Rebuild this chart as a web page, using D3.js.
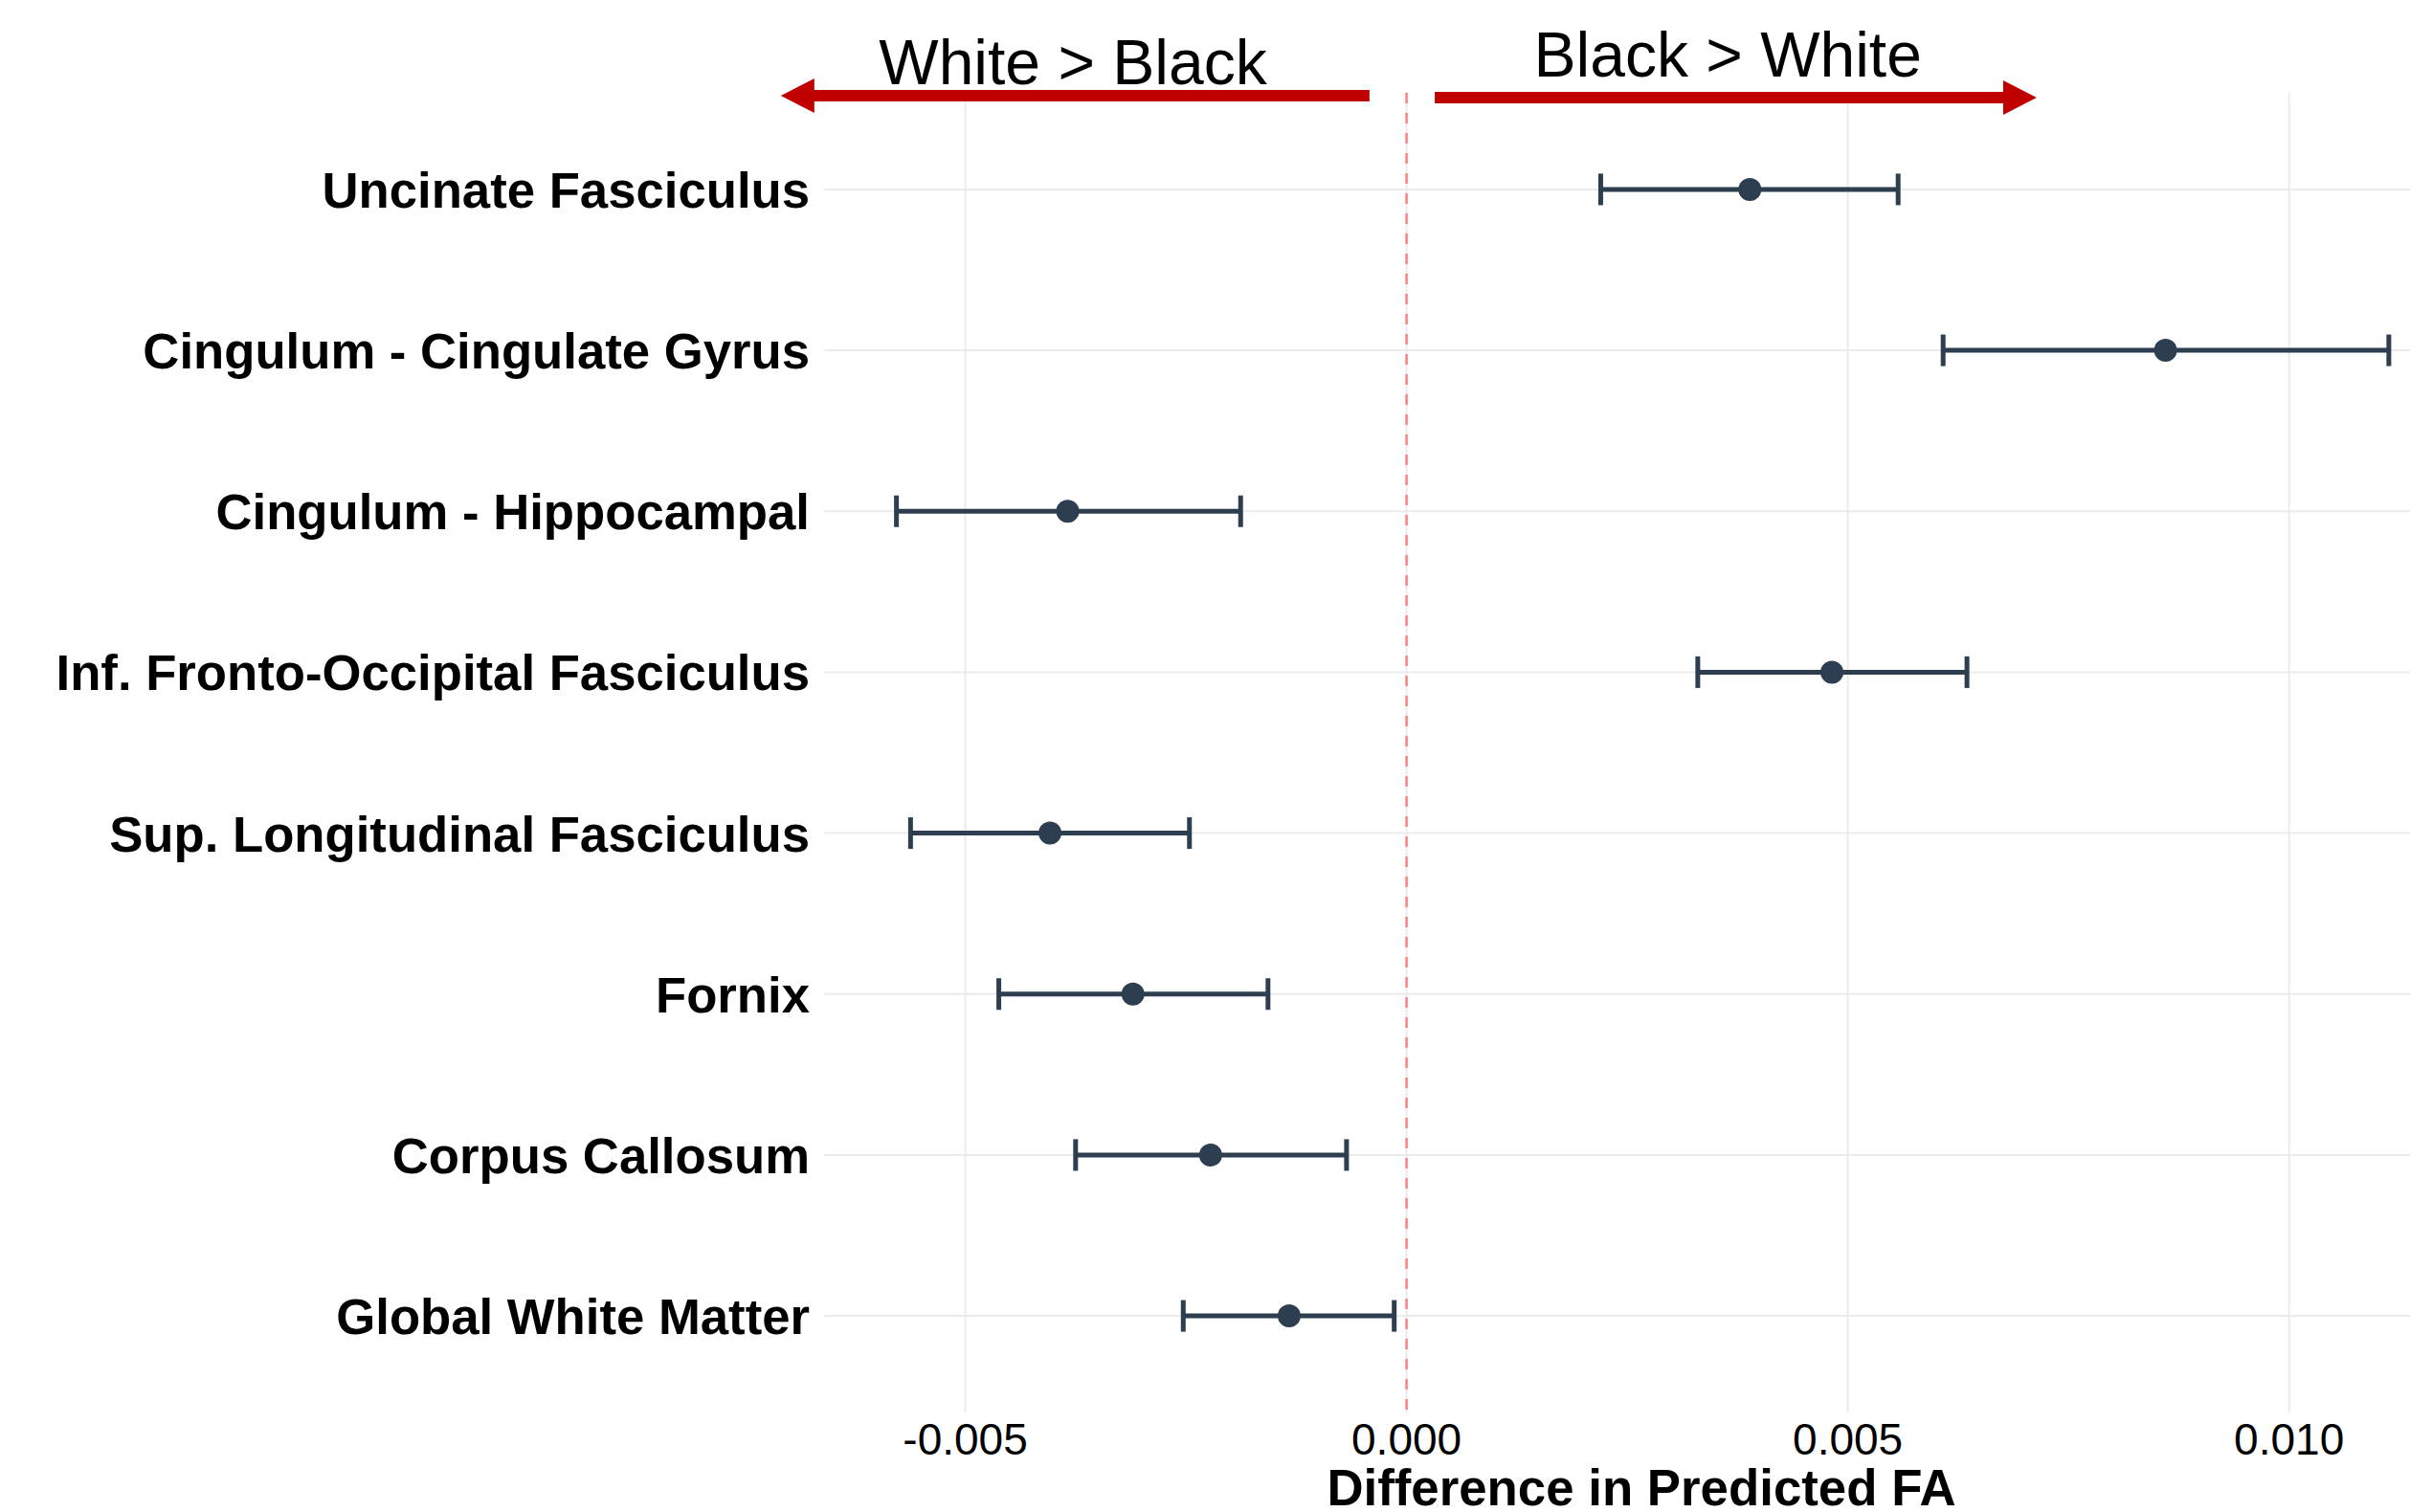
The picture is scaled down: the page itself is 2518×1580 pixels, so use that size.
<!DOCTYPE html>
<html>
<head>
<meta charset="utf-8">
<script src="https://cdn.jsdelivr.net/npm/d3@7"></script>
<style>
  body { margin: 0; background: #fff; }
  svg { display: block; font-family: "Liberation Sans", Arial, sans-serif; }
</style>
</head>
<body>
<script>
// Tracts, top to bottom
const tracts = [
  "Uncinate Fasciculus",
  "Cingulum - Cingulate Gyrus",
  "Cingulum - Hippocampal",
  "Inf. Fronto-Occipital Fasciculus",
  "Sup. Longitudinal Fasciculus",
  "Fornix",
  "Corpus Callosum",
  "Global White Matter"
];
const estimate = [0.00389, 0.00860, -0.00384, 0.00482, -0.00404, -0.00310, -0.00222, -0.00133];
const lower    = [0.00220, 0.00608, -0.00578, 0.00330, -0.00562, -0.00462, -0.00375, -0.00253];
const upper    = [0.00557, 0.01113, -0.00188, 0.00635, -0.00246, -0.00157, -0.00068, -0.00014];
const xTicks = [-0.005, 0, 0.005, 0.010];

// direction annotations (x in data units)
const arrowLabels = ["White > Black", "Black > White"];
const arrowFrom = [-0.00042, 0.00032];
const arrowTo = [-0.00709, 0.00714];
const labelAt = [-0.00378, 0.00364];

const width = 2518, height = 1580;
const panel = {left: 861, right: 2518, top: 97, bottom: 1476};
const ink = "#2c3e50";

const svg = d3.select("body").append("svg")
    .attr("width", width)
    .attr("height", height);

const x = d3.scaleLinear()
    .domain([-0.0066, 0.01137])
    .range([panel.left, panel.right]);

const y = d3.scalePoint()
    .domain(tracts)
    .range([panel.top, panel.bottom])
    .padding(0.6);

const rows = tracts.map((t, i) => ({tract: t, est: estimate[i], lo: lower[i], hi: upper[i]}));

// grid
const grid = svg.append("g");
grid.selectAll(".vgrid")
  .data(xTicks)
  .join("line")
    .attr("x1", d => x(d)).attr("x2", d => x(d))
    .attr("y1", panel.top).attr("y2", panel.bottom)
    .attr("stroke", "#ebebeb")
    .attr("stroke-width", 2);
grid.selectAll(".hgrid")
  .data(tracts)
  .join("line")
    .attr("x1", panel.left).attr("x2", panel.right)
    .attr("y1", d => y(d)).attr("y2", d => y(d))
    .attr("stroke", "#ebebeb")
    .attr("stroke-width", 2);

// zero reference
svg.append("line")
    .attr("x1", x(0)).attr("x2", x(0))
    .attr("y1", panel.top).attr("y2", panel.bottom)
    .attr("stroke", "#ff8080")
    .attr("stroke-width", 2.5)
    .attr("stroke-dasharray", "11,10");

// error bars
const bars = svg.append("g").selectAll("g")
  .data(rows)
  .join("g");

bars.append("line")
    .attr("x1", d => x(d.lo)).attr("x2", d => x(d.hi))
    .attr("y1", d => y(d.tract)).attr("y2", d => y(d.tract))
    .attr("stroke", ink).attr("stroke-width", 5);
bars.append("line")
    .attr("x1", d => x(d.lo)).attr("x2", d => x(d.lo))
    .attr("y1", d => y(d.tract) - 16.5).attr("y2", d => y(d.tract) + 16.5)
    .attr("stroke", ink).attr("stroke-width", 5);
bars.append("line")
    .attr("x1", d => x(d.hi)).attr("x2", d => x(d.hi))
    .attr("y1", d => y(d.tract) - 16.5).attr("y2", d => y(d.tract) + 16.5)
    .attr("stroke", ink).attr("stroke-width", 5);
bars.append("circle")
    .attr("cx", d => x(d.est))
    .attr("cy", d => y(d.tract))
    .attr("r", 12)
    .attr("fill", ink);

// y labels
svg.append("g").selectAll("text")
  .data(tracts)
  .join("text")
    .attr("x", panel.left - 15)
    .attr("y", d => y(d))
    .attr("dy", "0.36em")
    .attr("text-anchor", "end")
    .attr("font-size", 52.7)
    .attr("font-weight", "bold")
    .attr("fill", "#000")
    .text(d => d);

// x axis labels
svg.append("g").selectAll("text")
  .data(xTicks)
  .join("text")
    .attr("x", d => x(d))
    .attr("y", 1520)
    .attr("text-anchor", "middle")
    .attr("font-size", 46)
    .attr("fill", "#000")
    .text(d => d3.format(".3f")(d).replace("−", "-"));

svg.append("text")
    .attr("x", 1715)
    .attr("y", 1573)
    .attr("text-anchor", "middle")
    .attr("font-size", 52.8)
    .attr("font-weight", "bold")
    .text("Difference in Predicted FA");

// direction arrows
const arrowY = [100, 102];
const textY = [88, 80];
const red = "#c00000";
arrowLabels.forEach((lab, i) => {
  const x0 = x(arrowFrom[i]), x1 = x(arrowTo[i]);
  const dir = Math.sign(x1 - x0);
  const headLen = 35, headHalf = 18, shaft = 6;
  const xb = x1 - dir * headLen, yy = arrowY[i];
  svg.append("path")
      .attr("d", `M${x0},${yy - shaft}L${xb},${yy - shaft}L${xb},${yy - headHalf}L${x1},${yy}` +
                 `L${xb},${yy + headHalf}L${xb},${yy + shaft}L${x0},${yy + shaft}Z`)
      .attr("fill", red);
  svg.append("text")
      .attr("x", x(labelAt[i]))
      .attr("y", textY[i])
      .attr("text-anchor", "middle")
      .attr("font-size", 66)
      .attr("fill", "#000")
      .text(lab);
});
</script>
</body>
</html>
